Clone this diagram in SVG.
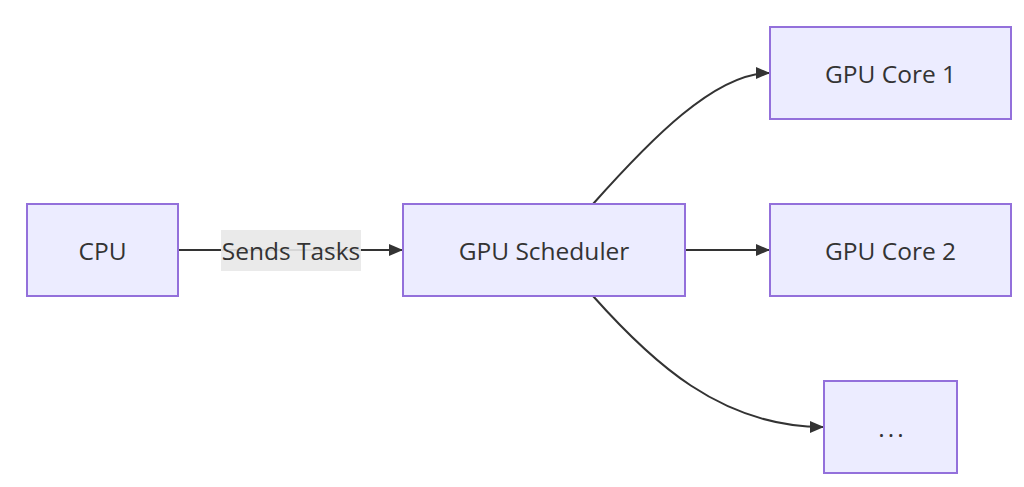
<svg xmlns="http://www.w3.org/2000/svg" width="1024" height="487" viewBox="0 0 1024 487">
<defs>
<style>
.node rect{fill:#ECECFF;stroke:#9370DB;stroke-width:2}
.node text,.lbl text{font-family:"Trebuchet MS","Open Sans","Liberation Sans",sans-serif;font-size:24.5px;fill:#333;text-anchor:middle;dominant-baseline:central}
.edge{fill:none;stroke:#333;stroke-width:2}
</style>
<marker id="arr" viewBox="0 0 14 12" refX="13" refY="6" markerWidth="14" markerHeight="12" markerUnits="userSpaceOnUse" orient="auto">
<path d="M0,0 L14,6 L0,12 z" fill="#333"/>
</marker>
</defs>
<rect width="1024" height="487" fill="#fff"/>
<g id="connectors">
<path class="edge" d="M178,250 L402,250" marker-end="url(#arr)"/>
<path class="edge" d="M593,204 C650,140 715,73 769,73" marker-end="url(#arr)"/>
<path class="edge" d="M685,250 L769,250" marker-end="url(#arr)"/>
<path class="edge" d="M593,296 C650,360 720,427 823,427" marker-end="url(#arr)"/>
</g>
<g id="edge-label" class="lbl">
<rect x="221" y="230" width="140" height="41" fill="#e8e8e8" opacity="0.9"/>
<text x="291" y="250">Sends Tasks</text>
</g>
<g id="cpu" class="node"><rect x="27" y="204" width="151" height="92"/><text x="102.5" y="250">CPU</text></g>
<g id="scheduler" class="node"><rect x="403" y="204" width="282" height="92"/><text x="544" y="250">GPU Scheduler</text></g>
<g id="core1" class="node"><rect x="770" y="27" width="241" height="92"/><text x="890.5" y="73">GPU Core 1</text></g>
<g id="core2" class="node"><rect x="770" y="204" width="241" height="92"/><text x="890.5" y="250">GPU Core 2</text></g>
<g id="more" class="node"><rect x="824" y="381" width="133" height="92"/><text x="892.5" y="427" letter-spacing="3">...</text></g>
</svg>
